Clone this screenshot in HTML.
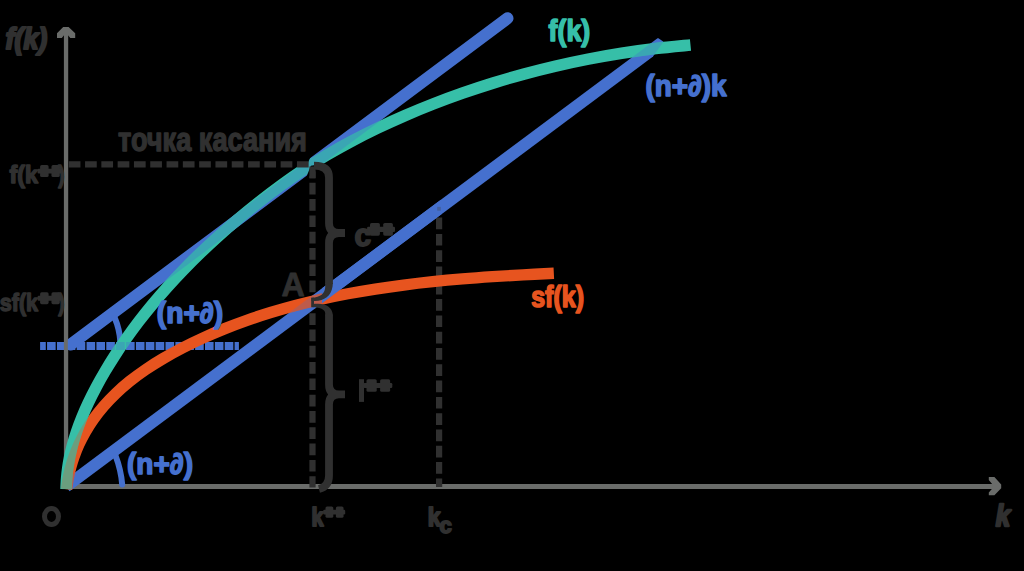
<!DOCTYPE html>
<html><head><meta charset="utf-8"><title>Golden rule</title>
<style>
html,body{margin:0;padding:0;background:#000;}
body{width:1024px;height:571px;overflow:hidden;}
svg{display:block;}
text{font-family:"Liberation Sans",sans-serif;font-weight:bold;}
</style></head><body>
<svg width="1024" height="571" viewBox="0 0 1024 571">
<rect width="1024" height="571" fill="#000"/>
<defs>
<clipPath id="ct"><rect x="67.8" y="0" width="500" height="400"/></clipPath>
<mask id="mg" maskUnits="userSpaceOnUse" x="0" y="0" width="1024" height="571"><path d="M66.12 489.05 C66.14 488.38 66.14 486.92 66.24 485.04 C66.33 483.16 66.45 480.52 66.69 477.75 C66.94 474.98 67.25 471.79 67.74 468.41 C68.22 465.03 68.80 461.34 69.59 457.49 C70.37 453.63 71.29 449.53 72.44 445.28 C73.58 441.04 74.89 436.59 76.43 432.01 C77.97 427.44 79.71 422.70 81.68 417.86 C83.64 413.01 85.82 408.02 88.21 402.95 C90.60 397.88 93.22 392.69 96.02 387.44 C98.83 382.18 101.85 376.82 105.04 371.42 C108.24 366.01 111.62 360.52 115.19 355.00 C118.77 349.47 122.53 343.88 126.49 338.27 C130.45 332.66 134.60 327.00 138.95 321.32 C143.30 315.65 147.85 309.94 152.60 304.24 C157.34 298.53 162.28 292.81 167.41 287.09 C172.55 281.38 177.88 275.65 183.39 269.95 C188.91 264.25 194.62 258.55 200.51 252.88 C206.40 247.21 212.47 241.57 218.72 235.95 C224.97 230.33 231.39 224.74 238.00 219.17 C244.61 213.61 251.40 208.04 258.38 202.54 C265.36 197.04 272.52 191.55 279.88 186.18 C287.24 180.82 294.78 175.48 302.53 170.34 C310.27 165.21 318.20 160.20 326.34 155.37 C334.48 150.53 342.81 145.88 351.35 141.34 C359.89 136.80 368.64 132.40 377.58 128.11 C386.51 123.83 395.66 119.66 404.97 115.63 C414.27 111.61 423.77 107.70 433.40 103.94 C443.02 100.19 452.81 96.56 462.73 93.09 C472.64 89.62 482.70 86.28 492.89 83.12 C503.08 79.95 513.41 76.93 523.87 74.09 C534.33 71.24 544.92 68.56 555.65 66.06 C566.38 63.55 577.24 61.22 588.22 59.08 C599.21 56.93 610.33 54.97 621.57 53.20 C632.81 51.44 644.18 49.86 655.67 48.49 C667.16 47.12 684.70 45.57 690.50 44.99" stroke="#fff" fill="none" stroke-width="11.6"/></mask>
<mask id="mo" maskUnits="userSpaceOnUse" x="0" y="0" width="1024" height="571"><path d="M66.58 489.23 C66.67 488.53 66.81 486.99 67.11 485.02 C67.41 483.06 67.80 480.30 68.38 477.43 C68.96 474.56 69.66 471.26 70.59 467.82 C71.53 464.37 72.62 460.62 73.99 456.77 C75.36 452.92 76.94 448.84 78.82 444.72 C80.70 440.60 82.82 436.31 85.27 432.04 C87.72 427.77 90.45 423.40 93.51 419.09 C96.57 414.78 99.94 410.45 103.64 406.19 C107.34 401.94 111.37 397.70 115.72 393.55 C120.06 389.41 124.75 385.31 129.73 381.32 C134.71 377.33 140.03 373.42 145.61 369.61 C151.19 365.80 157.10 362.09 163.22 358.49 C169.34 354.88 175.76 351.38 182.35 347.98 C188.93 344.58 195.75 341.27 202.73 338.09 C209.71 334.90 216.89 331.81 224.25 328.84 C231.62 325.88 239.17 323.03 246.90 320.31 C254.62 317.59 262.54 314.98 270.62 312.51 C278.70 310.05 286.96 307.70 295.37 305.49 C303.79 303.28 312.38 301.20 321.12 299.24 C329.86 297.29 338.76 295.47 347.80 293.77 C356.84 292.07 366.03 290.50 375.34 289.04 C384.66 287.59 394.11 286.26 403.67 285.03 C413.24 283.81 422.93 282.70 432.71 281.68 C442.49 280.67 452.39 279.76 462.35 278.93 C472.32 278.09 482.38 277.36 492.50 276.68 C502.61 276.00 512.81 275.41 523.03 274.84 C533.25 274.28 548.69 273.55 553.83 273.29" stroke="#fff" fill="none" stroke-width="11.4"/></mask>
</defs>
<line x1="40.1" y1="346" x2="238.9" y2="346" stroke="#4570ce" stroke-width="8" stroke-dasharray="8.6 1.27" stroke-dashoffset="2.9"/>
<g stroke="#6a6c6a" fill="none" stroke-width="4.4">
<line x1="66.05" y1="489" x2="66.05" y2="31" stroke-width="4.3"/>
<line x1="64" y1="486.5" x2="998" y2="486.5" stroke-width="5"/>
<polygon stroke="none" fill="#6a6c6a" points="57,37.9 57,33.2 63.2,26.9 68.6,26.9 75.2,33.2 75.2,37.9 70.3,37.9 68.2,35.6 63.8,35.6 61.8,37.9"/>
<polygon stroke="none" fill="#6a6c6a" points="988.8,477.1 994.4,477.1 1001.2,484.4 1001.2,488.2 994.4,495.2 988.8,495.2 988.8,492.5 992.3,488.6 992.3,484.2 988.8,480"/>
</g>
<g stroke="#303030" fill="none" stroke-width="6.2" stroke-dasharray="11.7 4.6">
<line x1="68.75" y1="164.4" x2="310" y2="164.4"/>
<line x1="312.5" y1="166.5" x2="312.5" y2="487.5"/>
<line x1="439.1" y1="204" x2="439.1" y2="487" stroke-dashoffset="2.7"/>
</g>
<g stroke="#4570ce" fill="none" stroke-width="12">
<line x1="70.7" y1="344.5" x2="507.5" y2="18.3" stroke-linecap="round" clip-path="url(#ct)"/>
<line x1="66" y1="486.5" x2="649.47" y2="51.81" />
<path d="M645.96 47.94 L657.99 38.98 L662.34 41.98 L652.18 56.28 Z" fill="#4570ce" stroke="#4570ce" stroke-width="1.6" stroke-linejoin="round"/>
</g>
<g stroke="#4570ce" fill="none" stroke-width="6" stroke-linecap="round">
<path d="M115.5 455.5 Q121 470 122.2 484.5"/>
<path d="M114.8 318 Q119.5 329 120.3 341.5"/>
</g>
<path d="M66.58 489.23 C66.67 488.53 66.81 486.99 67.11 485.02 C67.41 483.06 67.80 480.30 68.38 477.43 C68.96 474.56 69.66 471.26 70.59 467.82 C71.53 464.37 72.62 460.62 73.99 456.77 C75.36 452.92 76.94 448.84 78.82 444.72 C80.70 440.60 82.82 436.31 85.27 432.04 C87.72 427.77 90.45 423.40 93.51 419.09 C96.57 414.78 99.94 410.45 103.64 406.19 C107.34 401.94 111.37 397.70 115.72 393.55 C120.06 389.41 124.75 385.31 129.73 381.32 C134.71 377.33 140.03 373.42 145.61 369.61 C151.19 365.80 157.10 362.09 163.22 358.49 C169.34 354.88 175.76 351.38 182.35 347.98 C188.93 344.58 195.75 341.27 202.73 338.09 C209.71 334.90 216.89 331.81 224.25 328.84 C231.62 325.88 239.17 323.03 246.90 320.31 C254.62 317.59 262.54 314.98 270.62 312.51 C278.70 310.05 286.96 307.70 295.37 305.49 C303.79 303.28 312.38 301.20 321.12 299.24 C329.86 297.29 338.76 295.47 347.80 293.77 C356.84 292.07 366.03 290.50 375.34 289.04 C384.66 287.59 394.11 286.26 403.67 285.03 C413.24 283.81 422.93 282.70 432.71 281.68 C442.49 280.67 452.39 279.76 462.35 278.93 C472.32 278.09 482.38 277.36 492.50 276.68 C502.61 276.00 512.81 275.41 523.03 274.84 C533.25 274.28 548.69 273.55 553.83 273.29" stroke="#e7541f" fill="none" stroke-width="11.4"/>
<g mask="url(#mo)" opacity="0.25"><g stroke="#4570ce" fill="none" stroke-width="12">
<line x1="70.7" y1="344.5" x2="507.5" y2="18.3" stroke-linecap="round" clip-path="url(#ct)"/>
<line x1="66" y1="486.5" x2="649.47" y2="51.81" />
<path d="M645.96 47.94 L657.99 38.98 L662.34 41.98 L652.18 56.28 Z" fill="#4570ce" stroke="#4570ce" stroke-width="1.6" stroke-linejoin="round"/>
</g>
</g>
<clipPath id="cr"><rect x="322" y="200" width="120" height="120"/></clipPath>
<g clip-path="url(#cr)"><g stroke="#4570ce" fill="none" stroke-width="12">
<line x1="70.7" y1="344.5" x2="507.5" y2="18.3" stroke-linecap="round" clip-path="url(#ct)"/>
<line x1="66" y1="486.5" x2="649.47" y2="51.81" />
<path d="M645.96 47.94 L657.99 38.98 L662.34 41.98 L652.18 56.28 Z" fill="#4570ce" stroke="#4570ce" stroke-width="1.6" stroke-linejoin="round"/>
</g>
</g>
<path d="M66.12 489.05 C66.14 488.38 66.14 486.92 66.24 485.04 C66.33 483.16 66.45 480.52 66.69 477.75 C66.94 474.98 67.25 471.79 67.74 468.41 C68.22 465.03 68.80 461.34 69.59 457.49 C70.37 453.63 71.29 449.53 72.44 445.28 C73.58 441.04 74.89 436.59 76.43 432.01 C77.97 427.44 79.71 422.70 81.68 417.86 C83.64 413.01 85.82 408.02 88.21 402.95 C90.60 397.88 93.22 392.69 96.02 387.44 C98.83 382.18 101.85 376.82 105.04 371.42 C108.24 366.01 111.62 360.52 115.19 355.00 C118.77 349.47 122.53 343.88 126.49 338.27 C130.45 332.66 134.60 327.00 138.95 321.32 C143.30 315.65 147.85 309.94 152.60 304.24 C157.34 298.53 162.28 292.81 167.41 287.09 C172.55 281.38 177.88 275.65 183.39 269.95 C188.91 264.25 194.62 258.55 200.51 252.88 C206.40 247.21 212.47 241.57 218.72 235.95 C224.97 230.33 231.39 224.74 238.00 219.17 C244.61 213.61 251.40 208.04 258.38 202.54 C265.36 197.04 272.52 191.55 279.88 186.18 C287.24 180.82 294.78 175.48 302.53 170.34 C310.27 165.21 318.20 160.20 326.34 155.37 C334.48 150.53 342.81 145.88 351.35 141.34 C359.89 136.80 368.64 132.40 377.58 128.11 C386.51 123.83 395.66 119.66 404.97 115.63 C414.27 111.61 423.77 107.70 433.40 103.94 C443.02 100.19 452.81 96.56 462.73 93.09 C472.64 89.62 482.70 86.28 492.89 83.12 C503.08 79.95 513.41 76.93 523.87 74.09 C534.33 71.24 544.92 68.56 555.65 66.06 C566.38 63.55 577.24 61.22 588.22 59.08 C599.21 56.93 610.33 54.97 621.57 53.20 C632.81 51.44 644.18 49.86 655.67 48.49 C667.16 47.12 684.70 45.57 690.50 44.99" stroke="#36bfa8" fill="none" stroke-width="11.6"/>
<g mask="url(#mg)" opacity="0.3"><g stroke="#4570ce" fill="none" stroke-width="12">
<line x1="70.7" y1="344.5" x2="507.5" y2="18.3" stroke-linecap="round" clip-path="url(#ct)"/>
<line x1="66" y1="486.5" x2="649.47" y2="51.81" />
<path d="M645.96 47.94 L657.99 38.98 L662.34 41.98 L652.18 56.28 Z" fill="#4570ce" stroke="#4570ce" stroke-width="1.6" stroke-linejoin="round"/>
</g>
<line x1="40.1" y1="346" x2="238.9" y2="346" stroke="#4570ce" stroke-width="8" stroke-dasharray="8.6 1.27" stroke-dashoffset="2.9"/>
<path d="M66.58 489.23 C66.67 488.53 66.81 486.99 67.11 485.02 C67.41 483.06 67.80 480.30 68.38 477.43 C68.96 474.56 69.66 471.26 70.59 467.82 C71.53 464.37 72.62 460.62 73.99 456.77 C75.36 452.92 76.94 448.84 78.82 444.72 C80.70 440.60 82.82 436.31 85.27 432.04 C87.72 427.77 90.45 423.40 93.51 419.09 C96.57 414.78 99.94 410.45 103.64 406.19 C107.34 401.94 111.37 397.70 115.72 393.55 C120.06 389.41 124.75 385.31 129.73 381.32 C134.71 377.33 140.03 373.42 145.61 369.61 C151.19 365.80 157.10 362.09 163.22 358.49 C169.34 354.88 175.76 351.38 182.35 347.98 C188.93 344.58 195.75 341.27 202.73 338.09 C209.71 334.90 216.89 331.81 224.25 328.84 C231.62 325.88 239.17 323.03 246.90 320.31 C254.62 317.59 262.54 314.98 270.62 312.51 C278.70 310.05 286.96 307.70 295.37 305.49 C303.79 303.28 312.38 301.20 321.12 299.24 C329.86 297.29 338.76 295.47 347.80 293.77 C356.84 292.07 366.03 290.50 375.34 289.04 C384.66 287.59 394.11 286.26 403.67 285.03 C413.24 283.81 422.93 282.70 432.71 281.68 C442.49 280.67 452.39 279.76 462.35 278.93 C472.32 278.09 482.38 277.36 492.50 276.68 C502.61 276.00 512.81 275.41 523.03 274.84 C533.25 274.28 548.69 273.55 553.83 273.29" stroke="#e7541f" fill="none" stroke-width="11.4"/></g>
<rect x="437.2" y="206.9" width="3.6" height="3.8" fill="#44609e"/>
<g transform="translate(309.6 163.9) rotate(-36.56)" fill="#000"><polygon points="-14,-9.5 0,-2.2 12,-9.5"/><polygon points="-12,9.5 0,2.2 14,9.5"/></g>
<clipPath id="cp"><rect x="294" y="156" width="26" height="26"/></clipPath>
<g clip-path="url(#cp)"><g stroke="#303030" fill="none" stroke-width="6.2" stroke-dasharray="11.7 4.6">
<line x1="68.75" y1="164.4" x2="310" y2="164.4"/>
<line x1="312.5" y1="166.5" x2="312.5" y2="487.5"/>
<line x1="439.1" y1="204" x2="439.1" y2="487" stroke-dashoffset="2.7"/>
</g>
</g>
<g stroke="#303030" fill="none" stroke-width="7.8" stroke-linejoin="bevel">
<path d="M314 165.7 Q329 165.7 329 177.5 L329 223 Q329 233 339 233 L345 233 L339 233 Q329 233 329 243 L329 284"/>
<path d="M329 314.5 L329 384.4 Q329 394.4 339 394.4 L345 394.4 L339 394.4 Q329 394.4 329 404.4 L329 475.5 Q329 486.5 319 489"/>
</g>
<rect x="311.2" y="297.6" width="2.8" height="9.6" fill="#303030"/>
<polygon points="325.10,283.12 325.27,285.78 325.14,288.09 324.72,290.08 324.03,291.81 323.03,293.33 321.65,294.68 319.82,295.86 317.52,296.81 314.74,297.50 311.50,297.90 311.50,300.90 315.09,300.97 318.40,300.67 321.45,299.99 324.23,298.87 326.72,297.27 328.85,295.18 330.55,292.64 331.78,289.71 332.56,286.45 332.90,282.88" fill="#303030" stroke="none"/>
<polygon points="332.90,315.50 332.44,312.81 331.50,310.35 330.08,308.21 328.25,306.50 326.11,305.24 323.73,304.40 321.14,303.90 318.32,303.71 315.25,303.78 311.91,304.10 312.09,307.10 315.21,307.26 317.92,307.65 320.20,308.24 322.03,309.01 323.39,309.91 324.31,310.87 324.86,311.85 325.14,312.88 325.22,314.07 325.10,315.50" fill="#303030" stroke="none"/>
<text x="5.50" y="48.9" font-size="28.6" fill="#303030" stroke="#303030" stroke-width="2.2" stroke-linejoin="round" textLength="41.8" lengthAdjust="spacingAndGlyphs" font-style="italic">f(k)</text>
<text x="118.00" y="151.3" font-size="33" fill="#303030" stroke="#303030" stroke-width="1.4" stroke-linejoin="round" textLength="188.9" lengthAdjust="spacingAndGlyphs">точка касания</text>
<text x="9.55" y="183.1" font-size="23.8" fill="#303030" stroke="#303030" stroke-width="1.5" stroke-linejoin="round" textLength="28.5" lengthAdjust="spacingAndGlyphs">f(k</text>
<text x="58.25" y="183.1" font-size="23.8" fill="#303030" stroke="#303030" stroke-width="1.5" stroke-linejoin="round" textLength="6.3" lengthAdjust="spacingAndGlyphs">)</text>
<text x="-0.25" y="310.8" font-size="24.4" fill="#303030" stroke="#303030" stroke-width="1.5" stroke-linejoin="round" textLength="38.3" lengthAdjust="spacingAndGlyphs">sf(k</text>
<text x="58.25" y="310.8" font-size="24.4" fill="#303030" stroke="#303030" stroke-width="1.5" stroke-linejoin="round" textLength="6.3" lengthAdjust="spacingAndGlyphs">)</text>
<text x="156.80" y="322.5" font-size="28.7" fill="#4570ce" stroke="#4570ce" stroke-width="1.6" stroke-linejoin="round" textLength="66.4" lengthAdjust="spacingAndGlyphs">(n+∂)</text>
<text x="127.00" y="474.0" font-size="29.1" fill="#4570ce" stroke="#4570ce" stroke-width="1.6" stroke-linejoin="round" textLength="66.0" lengthAdjust="spacingAndGlyphs">(n+∂)</text>
<text x="645.60" y="96.2" font-size="29.3" fill="#4570ce" stroke="#4570ce" stroke-width="1.6" stroke-linejoin="round" textLength="81.0" lengthAdjust="spacingAndGlyphs">(n+∂)k</text>
<text x="548.60" y="40.9" font-size="29.1" fill="#36bfa8" stroke="#36bfa8" stroke-width="1.6" stroke-linejoin="round" textLength="41.6" lengthAdjust="spacingAndGlyphs">f(k)</text>
<text x="531.20" y="306.8" font-size="28.6" fill="#e7541f" stroke="#e7541f" stroke-width="1.6" stroke-linejoin="round" textLength="52.8" lengthAdjust="spacingAndGlyphs">sf(k)</text>
<text x="281.40" y="296.2" font-size="32.4" fill="#303030" stroke="#303030" stroke-width="0.8" stroke-linejoin="round" textLength="23.2" lengthAdjust="spacingAndGlyphs">A</text>
<text x="354.50" y="245.7" font-size="31" fill="#303030" stroke="#303030" stroke-width="1.8" stroke-linejoin="round" textLength="16.6" lengthAdjust="spacingAndGlyphs">c</text>
<rect x="359" y="379.2" width="5" height="22.7" fill="#303030"/>
<text x="311.60" y="525.6" font-size="25.5" fill="#303030" stroke="#303030" stroke-width="2.0" stroke-linejoin="round" textLength="12.0" lengthAdjust="spacingAndGlyphs">k</text>
<text x="427.70" y="525.6" font-size="25.5" fill="#303030" stroke="#303030" stroke-width="2.0" stroke-linejoin="round" textLength="12.8" lengthAdjust="spacingAndGlyphs">k</text>
<text x="439.50" y="532.5" font-size="21.5" fill="#303030" stroke="#303030" stroke-width="1.8" stroke-linejoin="round" textLength="12.3" lengthAdjust="spacingAndGlyphs">c</text>
<text x="995.80" y="525.8" font-size="29.5" fill="#303030" stroke="#303030" stroke-width="2.4" stroke-linejoin="round" textLength="14.4" lengthAdjust="spacingAndGlyphs" font-style="italic">k</text>
<ellipse cx="51.5" cy="516.5" rx="7" ry="8" stroke="#303030" stroke-width="5" fill="none"/>
<g fill="#303030"><rect x="370.00" y="223.00" width="9.90" height="12.70" rx="1.6"/><rect x="383.20" y="223.00" width="9.71" height="12.70" rx="1.6"/><rect x="367.10" y="226.81" width="27.90" height="5.08" rx="1.2"/></g>
<g fill="#303030"><rect x="366.50" y="379.20" width="10.22" height="12.60" rx="1.6"/><rect x="380.12" y="379.20" width="10.02" height="12.60" rx="1.6"/><rect x="363.50" y="382.98" width="28.80" height="5.04" rx="1.2"/></g>
<g fill="#303030"><rect x="325.49" y="506.40" width="7.81" height="11.40" rx="1.6"/><rect x="335.89" y="506.40" width="7.66" height="11.40" rx="1.6"/><rect x="323.20" y="509.82" width="22.00" height="4.56" rx="1.2"/></g>
<g fill="#303030"><rect x="40.10" y="165.10" width="8.52" height="11.90" rx="1.6"/><rect x="51.45" y="165.10" width="8.35" height="11.90" rx="1.6"/><rect x="37.60" y="168.67" width="24.00" height="4.76" rx="1.2"/></g>
<g fill="#303030"><rect x="40.10" y="292.30" width="8.52" height="11.90" rx="1.6"/><rect x="51.45" y="292.30" width="8.35" height="11.90" rx="1.6"/><rect x="37.60" y="295.87" width="24.00" height="4.76" rx="1.2"/></g>
</svg>
</body></html>
